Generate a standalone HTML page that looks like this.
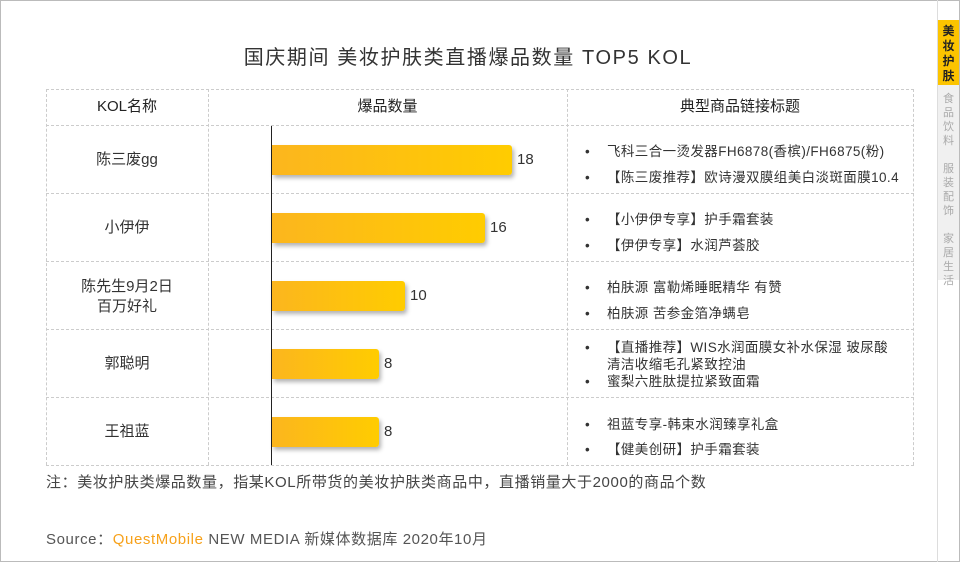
<!DOCTYPE html>
<html><head><meta charset="utf-8"><style>
*{margin:0;padding:0;box-sizing:border-box}
body{width:960px;height:562px;background:#fff;position:relative;overflow:hidden;font-family:"Liberation Sans","Noto Sans CJK SC",sans-serif;color:#333}
.abs{position:absolute}
.frame{left:0;top:0;width:960px;height:562px;border:1px solid #bbb}
.title{left:0;width:936px;top:41px;text-align:center;font-size:20px;color:#333;letter-spacing:1.6px}
.hl{position:absolute;left:46px;width:868px;border-top:1px dashed #ccc}
.vl{position:absolute;top:89px;height:376px;border-left:1px dashed #ccc}
.hd{top:89px;height:36px;line-height:36px;text-align:center;font-size:15px;color:#222}
.name{left:46px;width:162px;text-align:center;font-size:15px;line-height:20px;color:#333}
.bar{left:272px;height:30px;border-radius:0 3px 3px 0;background:linear-gradient(90deg,#fcb61e,#ffcc00);box-shadow:2px 3px 4px rgba(0,0,0,.3)}
.val{font-size:15px;color:#333}
.li{left:585px;font-size:13.5px;color:#333;line-height:17px;letter-spacing:0.4px}
.li span{display:inline-block;width:22px}
</style></head><body>
<div class="abs frame"></div>
<div class="abs" style="left:937px;top:0;width:1px;height:562px;background:#ddd"></div>
<div class="abs" style="left:938px;top:20px;width:21px;height:65px;background:#fcc400"></div>
<div class="abs" style="left:938px;top:85px;width:21px;height:195px;background:#f0f0f0"></div>
<div class="abs" style="left:938px;top:24px;width:21px;font-size:12px;line-height:15px;text-align:center;font-weight:bold;color:#222">美<br>妆<br>护<br>肤</div>
<div class="abs" style="left:938px;top:92px;width:21px;font-size:11px;line-height:14px;text-align:center;color:#aaa">食<br>品<br>饮<br>料<br><br>服<br>装<br>配<br>饰<br><br>家<br>居<br>生<br>活</div>
<div class="abs title">国庆期间 美妆护肤类直播爆品数量 TOP5 KOL</div>
<div class="hl" style="top:89px"></div><div class="hl" style="top:125px"></div><div class="hl" style="top:193px"></div><div class="hl" style="top:261px"></div><div class="hl" style="top:329px"></div><div class="hl" style="top:397px"></div><div class="hl" style="top:465px"></div>
<div class="vl" style="left:46px"></div><div class="vl" style="left:208px"></div><div class="vl" style="left:567px"></div><div class="vl" style="left:913px"></div>
<div class="abs hd" style="left:46px;width:162px">KOL名称</div>
<div class="abs hd" style="left:208px;width:359px">爆品数量</div>
<div class="abs hd" style="left:567px;width:346px">典型商品链接标题</div>
<div class="abs" style="left:271px;top:126px;width:1px;height:339px;background:#222"></div>
<div class="abs name" style="top:150px">陈三废gg</div>
<div class="abs name" style="top:218px">小伊伊</div>
<div class="abs name" style="top:277px">陈先生9月2日<br>百万好礼</div>
<div class="abs name" style="top:354px">郭聪明</div>
<div class="abs name" style="top:422px">王祖蓝</div>
<div class="abs bar" style="top:145px;width:240px"></div><div class="abs val" style="left:517px;top:151px">18</div>
<div class="abs bar" style="top:213px;width:213px"></div><div class="abs val" style="left:490px;top:219px">16</div>
<div class="abs bar" style="top:281px;width:133px"></div><div class="abs val" style="left:410px;top:287px">10</div>
<div class="abs bar" style="top:349px;width:107px"></div><div class="abs val" style="left:384px;top:355px">8</div>
<div class="abs bar" style="top:417px;width:107px"></div><div class="abs val" style="left:384px;top:423px">8</div>
<div class="abs li" style="top:143px"><span>•</span>飞科三合一烫发器FH6878(香槟)/FH6875(粉)</div>
<div class="abs li" style="top:169px"><span>•</span>【陈三废推荐】欧诗漫双膜组美白淡斑面膜10.4</div>
<div class="abs li" style="top:211px"><span>•</span>【小伊伊专享】护手霜套装</div>
<div class="abs li" style="top:237px"><span>•</span>【伊伊专享】水润芦荟胶</div>
<div class="abs li" style="top:279px"><span>•</span>柏肤源 富勒烯睡眠精华 有赞</div>
<div class="abs li" style="top:305px"><span>•</span>柏肤源 苦参金箔净螨皂</div>
<div class="abs li" style="top:339px"><span>•</span>【直播推荐】WIS水润面膜女补水保湿 玻尿酸<br><span></span>清洁收缩毛孔紧致控油</div>
<div class="abs li" style="top:373px"><span>•</span>蜜梨六胜肽提拉紧致面霜</div>
<div class="abs li" style="top:416px"><span>•</span>祖蓝专享-韩束水润臻享礼盒</div>
<div class="abs li" style="top:441px"><span>•</span>【健美创研】护手霜套装</div>
<div class="abs" style="left:46px;top:471px;font-size:15px;color:#444;letter-spacing:0.6px">注：美妆护肤类爆品数量，指某KOL所带货的美妆护肤类商品中，直播销量大于2000的商品个数</div>
<div class="abs" style="left:46px;top:528px;font-size:15px;color:#555;letter-spacing:0.6px">Source：<span style="color:#f7a11a">QuestMobile</span> NEW MEDIA 新媒体数据库 2020年10月</div>
</body></html>
